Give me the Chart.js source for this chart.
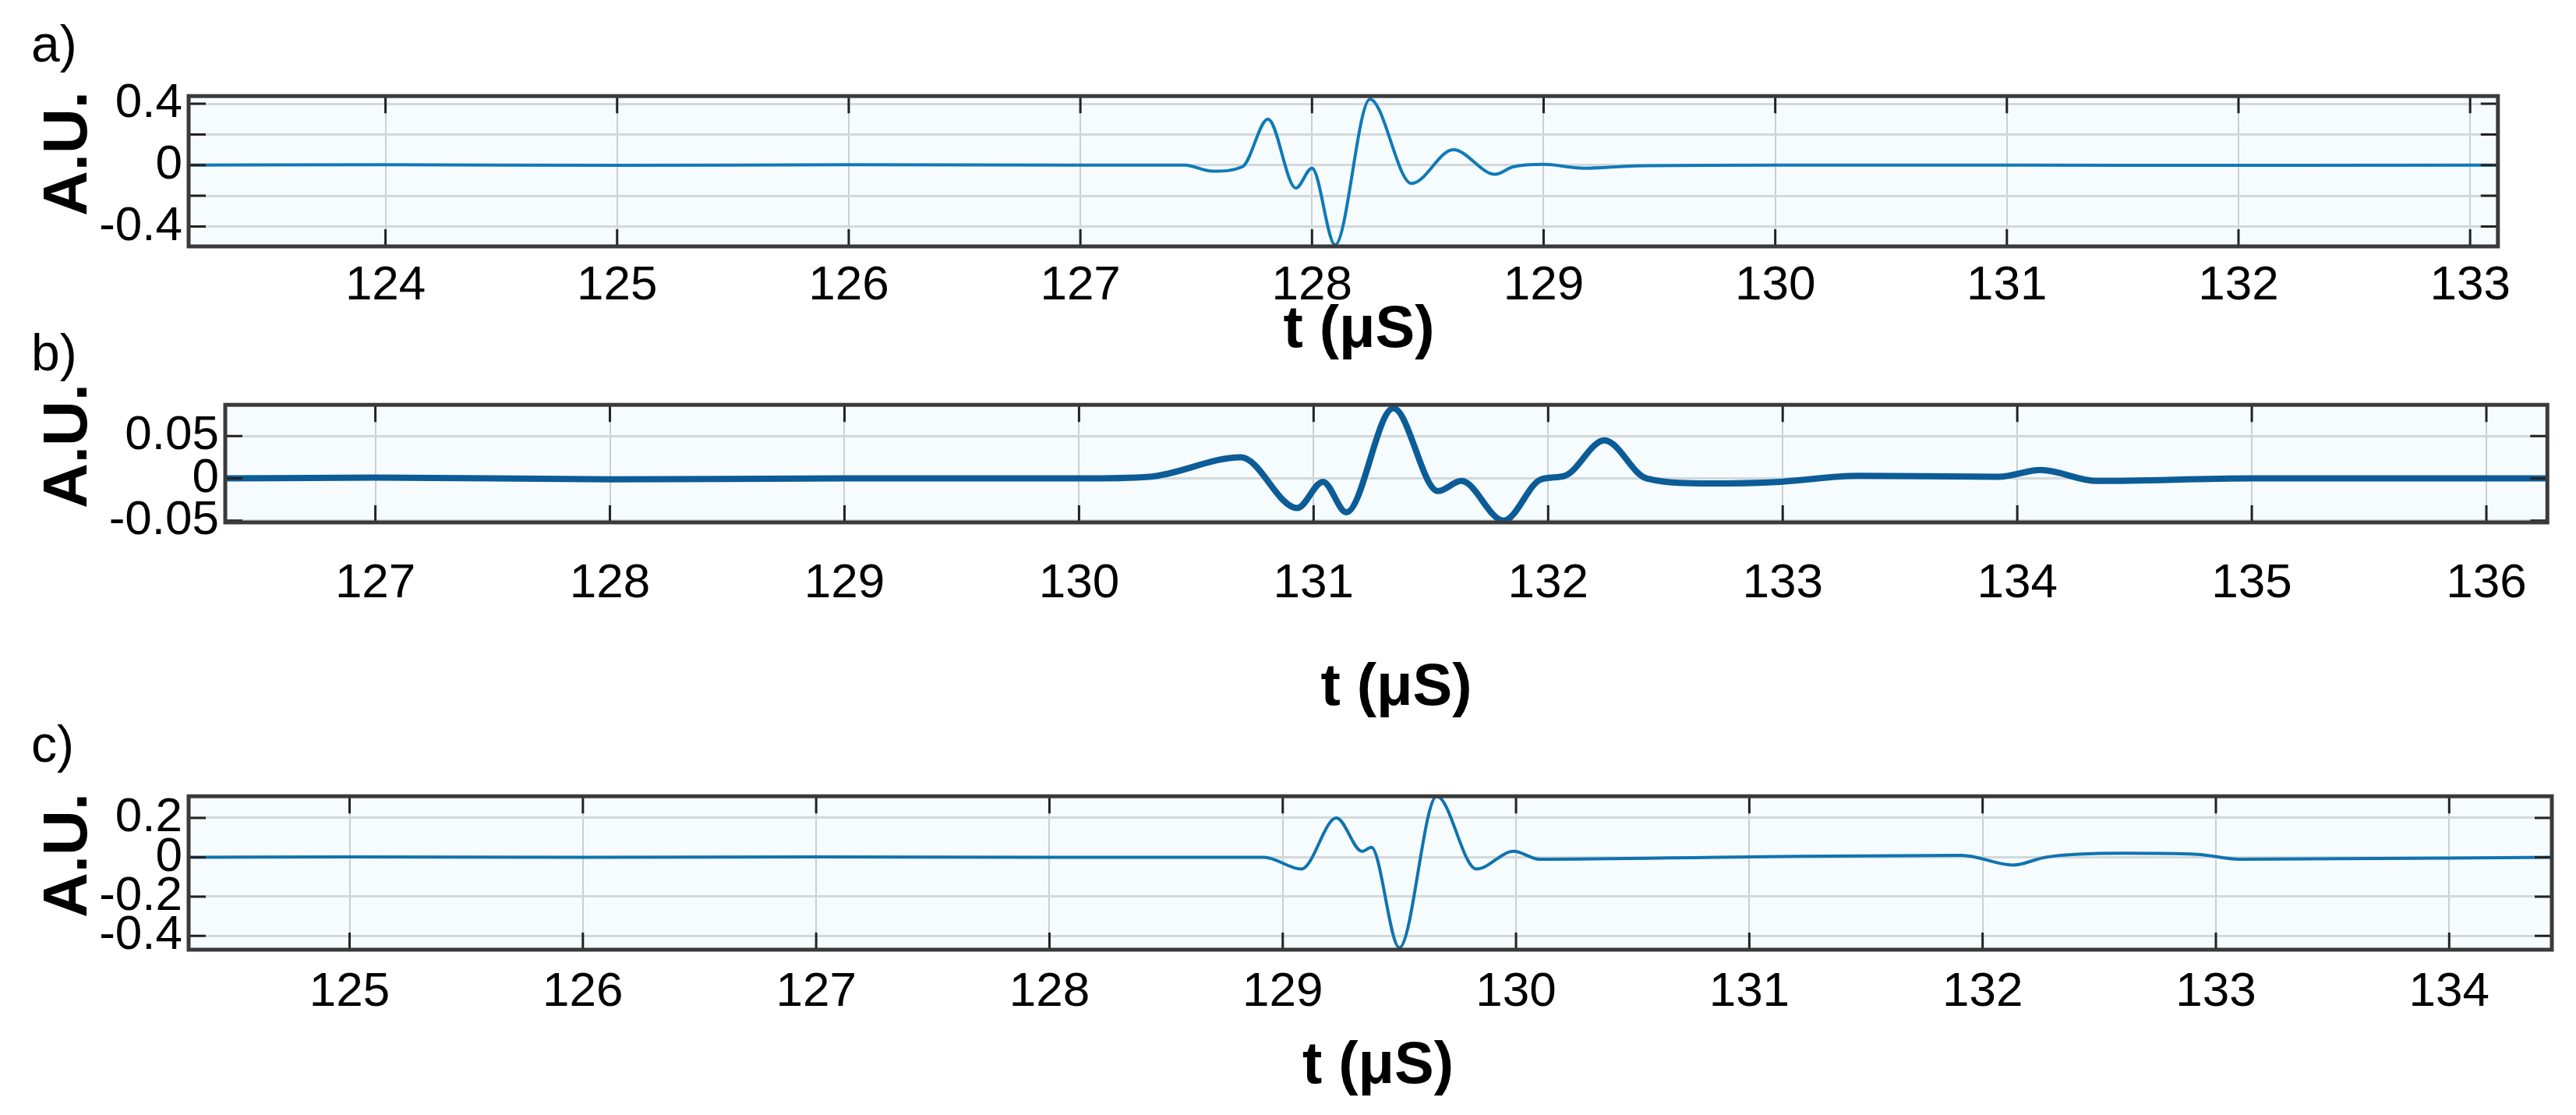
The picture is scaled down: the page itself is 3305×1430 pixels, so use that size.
<!DOCTYPE html>
<html><head><meta charset="utf-8">
<script src="https://cdn.jsdelivr.net/npm/chart.js@4"></script>
<style>
body{margin:0;background:#fff;width:3305px;height:1430px;position:relative;overflow:hidden;font-family:"Liberation Sans",Arial,sans-serif;}
.box{position:absolute}
.t{position:absolute;font-weight:bold;font-size:76px;color:#000;white-space:nowrap;transform:translate(-50%,-50%)}
.lab{position:absolute;font-size:66px;color:#000}
.yt{position:absolute;font-weight:bold;font-size:80px;transform:translate(-50%,-50%) rotate(-90deg);white-space:nowrap}
</style></head><body>
<script>
// Panel a: time (µs) and amplitude (A.U.)
const tA = [123.15,124.0,125.0,126.0,127.0,127.45,127.57,127.70,127.81,127.93,128.00,128.10,128.25,128.43,128.61,128.79,128.87,129.0,129.17,129.4,130.0,131.0,132.0,133.12];
const vA = [0.0,0.003,-0.002,0.002,0.0,0.0,-0.04,-0.01,0.30,-0.15,-0.02,-0.52,0.43,-0.12,0.10,-0.06,-0.01,0.005,-0.02,-0.005,0.0,0.0,-0.002,0.0];
// Panel b
const tB = [126.36,127.0,128.0,129.0,130.0,130.3,130.69,130.93,131.04,131.14,131.34,131.53,131.63,131.81,131.97,132.07,132.24,132.42,132.69,132.99,133.32,133.92,134.10,134.34,135.0,136.26];
const vB = [0.0,0.001,-0.001,0.0,0.0,0.002,0.025,-0.035,-0.004,-0.04,0.083,-0.015,-0.003,-0.05,-0.001,0.003,0.045,0.0,-0.006,-0.004,0.003,0.002,0.01,-0.003,0.0,0.0];
// Panel c
const tC = [124.31,125.0,126.0,127.0,128.0,128.92,129.08,129.23,129.34,129.38,129.50,129.66,129.83,129.99,130.10,131.0,131.91,132.13,132.27,132.60,132.92,133.10,134.44];
const vC = [0.0,0.002,0.0,0.002,0.0,0.0,-0.06,0.20,0.03,0.05,-0.46,0.31,-0.06,0.03,-0.01,0.002,0.01,-0.04,0.0,0.02,0.015,-0.01,0.0];
const xLabel = "t (μS)", yLabel = "A.U.";

const panels = [
 {id:'a', t:tA, v:vA, L:242, R:3225, T:78, B:316, xmin:123.15, xmax:133.12, ymin:-0.53, ymax:0.45, ystep:0.2, show:[0.4,0,-0.4], color:'#0f7ab6', w:4, titleY:418, ytX:84, pad:14},
 {id:'b', t:tB, v:vB, L:289, R:3274, T:474, B:670, xmin:126.36, xmax:136.26, ymin:-0.052, ymax:0.087, ystep:0.05, show:[0.05,0,-0.05], color:'#0b5c97', w:8, titleY:877, ytX:84, pad:42},
 {id:'c', t:tC, v:vC, L:242, R:3274, T:976, B:1218, xmin:124.31, xmax:134.44, ymin:-0.47, ymax:0.31, ystep:0.2, show:[0.2,0,-0.2,-0.4], color:'#0f73b0', w:4, titleY:1362, ytX:84, pad:18}
];
const YW = 160, XH = 120, RP = 10;
const FONT = {size:62,family:'"Liberation Sans",Arial'};
const frame = {
  id:'frame',
  beforeDraw(c){const a=c.chartArea,x=c.ctx;x.save();x.fillStyle='#f6fbfd';x.fillRect(a.left,a.top,a.right-a.left,a.bottom-a.top);x.restore();},
  afterDatasetsDraw(c){const a=c.chartArea,x=c.ctx;x.save();
    x.strokeStyle='#222';x.lineWidth=3;
    c.scales.x.ticks.forEach(tk=>{const px=c.scales.x.getPixelForValue(tk.value);
      x.beginPath();x.moveTo(px,a.bottom);x.lineTo(px,a.bottom-22);x.moveTo(px,a.top);x.lineTo(px,a.top+22);x.stroke();});
    c.scales.y.ticks.forEach(tk=>{const py=c.scales.y.getPixelForValue(tk.value);
      x.beginPath();x.moveTo(a.left,py);x.lineTo(a.left+22,py);x.moveTo(a.right,py);x.lineTo(a.right-22,py);x.stroke();});
    x.strokeStyle='#3a3a3a';x.lineWidth=5;x.strokeRect(a.left,a.top,a.right-a.left,a.bottom-a.top);x.restore();}
};
panels.forEach(p=>{
  const d=document.createElement('div');d.className='box';
  const W=p.R-p.L+YW+RP, H=p.B-p.T+XH+30;
  d.style.cssText=`left:${p.L-YW}px;top:${p.T}px;width:${W}px;height:${H}px`;
  const cv=document.createElement('canvas');d.appendChild(cv);document.body.appendChild(d);
  new Chart(cv,{type:'line',
    data:{datasets:[{data:p.t.map((t,i)=>({x:t,y:p.v[i]})),borderColor:p.color,borderWidth:p.w,pointRadius:0,cubicInterpolationMode:'monotone'}]},
    options:{responsive:true,maintainAspectRatio:false,animation:false,layout:{padding:{right:RP,top:0,bottom:0,left:0}},
      plugins:{legend:{display:false},tooltip:{enabled:false}},
      scales:{
        x:{type:'linear',min:p.xmin,max:p.xmax,afterFit:s=>{s.height=XH+30;},
          ticks:{stepSize:1,includeBounds:false,autoSkip:false,font:FONT,color:'#000',padding:p.pad,maxRotation:0},
          grid:{color:'#c9d0d3',lineWidth:2,drawTicks:false},border:{display:false}},
        y:{type:'linear',min:p.ymin,max:p.ymax,afterFit:s=>{s.width=YW;},
          ticks:{stepSize:p.ystep,includeBounds:false,autoSkip:false,font:FONT,color:'#000',padding:8,
            callback:v=>{const r=Math.round(v*1000)/1000;return p.show.some(s=>Math.abs(s-r)<1e-6)?String(r):'';}},
          grid:{color:'#d3d9db',lineWidth:3,drawTicks:false},border:{display:false}}
      }},
    plugins:[frame]});
  const tt=document.createElement('div');tt.className='t';tt.textContent=xLabel;
  tt.style.left=((p.L+p.R)/2+10)+'px';tt.style.top=p.titleY+'px';document.body.appendChild(tt);
  const yt=document.createElement('div');yt.className='yt';yt.textContent=yLabel;
  yt.style.left=p.ytX+'px';yt.style.top=((p.T+p.B)/2)+'px';document.body.appendChild(yt);
  const lb=document.createElement('div');lb.className='lab';lb.textContent=p.id+')';
  lb.style.left='40px';lb.style.top=(p.T-60)+'px';document.body.appendChild(lb);
});
</script>
</body></html>
